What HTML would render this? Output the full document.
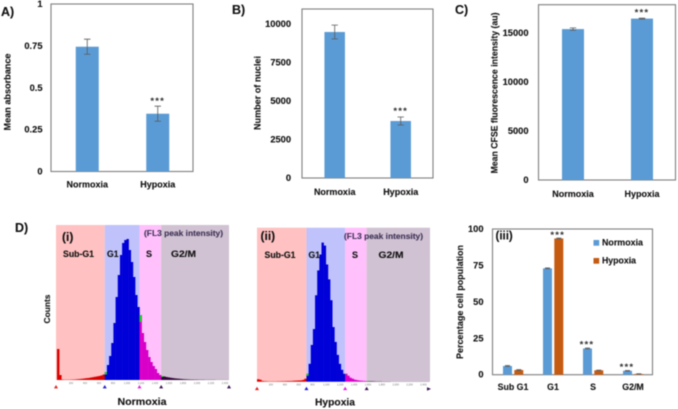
<!DOCTYPE html>
<html lang="en">
<head>
<meta charset="utf-8">
<title>Cell proliferation under normoxia and hypoxia</title>
<style>
html,body{margin:0;padding:0;background:#fff;width:678px;height:409px;overflow:hidden}
svg{display:block;filter:blur(0.45px)}
text{font-family:"Liberation Sans",sans-serif;font-weight:bold;fill:#111;stroke:#111;stroke-width:0.12px;dominant-baseline:central}
</style>
</head>
<body>
<svg id="figure" width="678" height="409" viewBox="0 0 678 409" xmlns="http://www.w3.org/2000/svg">
  <text x="1" y="12" font-size="12.5">A)</text>
  <text x="232" y="10" font-size="12.5">B)</text>
  <text x="455" y="10" font-size="12.5">C)</text>
  <text x="15" y="228" font-size="12.5">D)</text>
  <text x="58" y="15" font-size="9" textLength="44" lengthAdjust="spacingAndGlyphs">MTT assay</text>
  <text x="305" y="16" font-size="9.5" textLength="54" lengthAdjust="spacingAndGlyphs">Nuclei count</text>
  <text x="544.5" y="14" font-size="9.5" textLength="74" lengthAdjust="spacingAndGlyphs">CFSE dye dilution</text>
  <text transform="translate(7.5,92) rotate(-90)" text-anchor="middle" font-size="9" textLength="77" lengthAdjust="spacingAndGlyphs">Mean absorbance</text>
  <text transform="translate(257.5,93) rotate(-90)" text-anchor="middle" font-size="9" textLength="74" lengthAdjust="spacingAndGlyphs">Number of nuclei</text>
  <text transform="translate(494.5,93) rotate(-90)" text-anchor="middle" font-size="9" textLength="161" lengthAdjust="spacingAndGlyphs">Mean CFSE fluorescence intensity (au)</text>
  <text transform="translate(460,302) rotate(-90)" text-anchor="middle" font-size="9" textLength="114" lengthAdjust="spacingAndGlyphs">Percentage cell population</text>
  <text transform="translate(47,309) rotate(-90)" text-anchor="middle" font-size="8.5" textLength="29" lengthAdjust="spacingAndGlyphs">Counts</text>
  <text x="142" y="402" text-anchor="middle" font-size="10.5" textLength="49" lengthAdjust="spacingAndGlyphs">Normoxia</text>
  <text x="335" y="402.5" text-anchor="middle" font-size="10.5" textLength="40" lengthAdjust="spacingAndGlyphs">Hypoxia</text>
  <g id="marks"></g>
  <text x="62" y="237" font-size="12">(i)</text>
  <text x="63" y="254" font-size="9" textLength="31" lengthAdjust="spacingAndGlyphs">Sub-G1</text>
  <text x="107" y="254" font-size="9" textLength="11.5" lengthAdjust="spacingAndGlyphs">G1</text>
  <text x="146" y="254" font-size="9">S</text>
  <text x="171" y="254" font-size="9" textLength="25" lengthAdjust="spacingAndGlyphs">G2/M</text>
  <text x="144" y="233" font-size="8.5" style="fill:#3f3358;stroke:#3f3358" textLength="79" lengthAdjust="spacingAndGlyphs">(FL3 peak intensity)</text>
  <text x="260.5" y="236" font-size="12">(ii)</text>
  <text x="264.5" y="255" font-size="9" textLength="31" lengthAdjust="spacingAndGlyphs">Sub-G1</text>
  <text x="308.5" y="255" font-size="9" textLength="11.5" lengthAdjust="spacingAndGlyphs">G1</text>
  <text x="352" y="255" font-size="9">S</text>
  <text x="378.5" y="255" font-size="9" textLength="25" lengthAdjust="spacingAndGlyphs">G2/M</text>
  <text x="344" y="236" font-size="8.5" style="fill:#3f3358;stroke:#3f3358" textLength="79" lengthAdjust="spacingAndGlyphs">(FL3 peak intensity)</text>
  <text x="495.5" y="236.5" font-size="11.5">(iii)</text>
  <rect x="593.5" y="240" width="5.7" height="5.7" fill="#5b9bd5"/>
  <rect x="593.5" y="258" width="5.7" height="5.7" fill="#c55a11"/>
  <text x="602" y="242.7" font-size="9" textLength="41" lengthAdjust="spacingAndGlyphs">Normoxia</text>
  <text x="602" y="260.7" font-size="9" textLength="34" lengthAdjust="spacingAndGlyphs">Hypoxia</text>
</svg>
<script>
const treatmentCategories = ['Normoxia', 'Hypoxia'];
const mttValues = [0.745, 0.345];
const mttErrors = [0.045, 0.045];
const mttTicks = [0, 0.25, 0.5, 0.75, 1];
const nucleiValues = [9480, 3700];
const nucleiErrors = [445, 260];
const nucleiTicks = [0, 2500, 5000, 7500, 10000];
const cfseValues = [15400, 16470];
const cfseErrors = [120, 50];
const cfseTicks = [0, 5000, 10000, 15000];
const cycleCategories = ['Sub G1', 'G1', 'S', 'G2/M'];
const cycleNormoxia = [6, 73, 18, 2.7];
const cycleHypoxia = [3.2, 93.5, 3, 0.5];
const cycleNormoxiaErrors = [0.3, 0.3, 0.3, 0.2];
const cycleHypoxiaErrors = [0.3, 0.3, 0.1, 0.1];
const cycleTicks = [0, 25, 50, 75, 100];
const histNormoxiaCounts = [31,5,0.5,0.3,0.3,0.3,0.4,0.5,0.6,0.8,1,1.2,1.5,1.8,2,2.4,2.8,3.2,3.6,4,4.6,5.5,8,15,24,37,57,83,105,125,137,140,141,130,118,103,85,73,65,47,38,30,23,18,14,11,7,5,4,3.5,3,2.6,2.2,1.9,1.6,1.4,1.2,1,0.8,0.7,0.6,0.5,0.5,0.4,0.4,0.3,0.3,0.3,0.2,0.2,0.2,0.2,0.2,0.1,0.1,0.1,0.1,0.1,0.1];
const histHypoxiaCounts = [2.5,2,0.8,0.5,0.4,0.3,0.3,0.3,0.3,0.4,0.4,0.5,0.5,0.6,0.7,0.7,0.8,1,1.1,1.2,1.3,1.8,3,8,18,37,53,87,112,128,140,137,118,103,82,55,40,27,18,12,8,8,6,4,3,2,1.6,1.2,1,0.8,0.7,0.6,0.5,0.5,0.4,0.3,0.3,0.3,0.2,0.2,0.2,0.2,0.1,0.1,0.1,0.1,0.1,0.1,0.1,0.1,0.1,0.1,0.1,0.1,0.1,0.1,0.1,0.1,0.1,0.1];
const gateNamesHist = ['sub-g1', 'g1', 's', 'g2m'];
const gateEdgesNormoxia = [22, 38, 48];
const gateEdgesHypoxia = [23, 41, 51];
const gateOverlapNormoxia = [2.5, 7, 1];
const gateOverlapHypoxia = [2, 0.5, 0.5];
const histTickLabels = ['200','400','600','800','1,000','1,200','1,400','1,600','1,800','2,000','2,200','2,400'];
const histTickValues = [200,400,600,800,1000,1200,1400,1600,1800,2000,2200,2400];
const countsMax = 155;
const fl3PerBin = 31;

const SVGNS = 'http://www.w3.org/2000/svg';
const root = document.getElementById('marks');
function mk(tag, attrs) {
  const el = document.createElementNS(SVGNS, tag);
  for (const k in attrs) el.setAttribute(k, attrs[k]);
  root.appendChild(el);
  return el;
}
function linear(d0, d1, r0, r1) {
  return v => r0 + (v - d0) / (d1 - d0) * (r1 - r0);
}
function stars(prefix, cx, y) {
  const s = mk('text', {x: cx, y: y, 'text-anchor': 'middle', 'font-size': 9.5, 'letter-spacing': 1.2, style: 'fill:#333;stroke:none'});
  s.textContent = '***';
  
  
}
function tickLabels(prefix, ticks, y, right, fmt) {
  ticks.forEach(t => {
    const l = mk('text', {x: right, y: y(t), 'text-anchor': 'end', 'font-size': 9.3});
    l.textContent = fmt ? fmt(t) : String(t);
    
    
  });
}
function plotBox(prefix, x0, x1, yTop, yBottom) {
  const b = mk('rect', {x: x0, y: yTop, width: x1 - x0, height: yBottom - yTop, fill: '#fff', stroke: '#7f7f7f', 'stroke-width': 1.1});
  
  
}
function errorBar(prefix, cx, yHi, yLo, cap) {
  const e = mk('path', {d: 'M' + (cx - cap) + ' ' + yHi + 'H' + (cx + cap) + 'M' + cx + ' ' + yHi + 'V' + yLo + 'M' + (cx - cap) + ' ' + yLo + 'H' + (cx + cap), stroke: '#5a5a5a', 'stroke-width': 0.8, fill: 'none'});
  
  
}
function drawTreatmentPanel(p, values, errors, ticks) {
  plotBox(p.prefix, p.x0, p.x1, p.yTop, p.yBottom);
  const y = linear(0, p.yMax, p.yBottom, p.yTop);
  const band = p.band;
  values.forEach((v, i) => {
    const cx = p.left + (i + 0.5) * band;
    const r = mk('rect', {x: cx - p.barW / 2, y: y(v), width: p.barW, height: y(0) - y(v), fill: '#5b9bd5'});
    
    
    errorBar(p.prefix + '-' + treatmentCategories[i].toLowerCase(), cx, y(v + errors[i]), y(v - errors[i]), 3.2);
    const l = mk('text', {x: cx, y: p.labelY, 'text-anchor': 'middle', 'font-size': 9});
    l.textContent = treatmentCategories[i];
    
    
  });
  const cxH = p.left + 1.5 * band;
  stars(p.prefix, cxH, y(values[1] + errors[1]) - p.starGap);
  tickLabels(p.prefix, ticks, y, p.tickRight);
}
drawTreatmentPanel({prefix: 'mtt', x0: 51, x1: 193, yTop: 4, yBottom: 171.5, yMax: 1, left: 52, band: 70.5, barW: 23, labelY: 184.5, tickRight: 42.5, starGap: 4.5}, mttValues, mttErrors, mttTicks);
drawTreatmentPanel({prefix: 'nuclei', x0: 302, x1: 433, yTop: 9, yBottom: 178, yMax: 10974, left: 301.7, band: 66, barW: 20.5, labelY: 192, tickRight: 291, starGap: 5.5}, nucleiValues, nucleiErrors, nucleiTicks);
drawTreatmentPanel({prefix: 'cfse', x0: 538.5, x1: 675.5, yTop: 4.7, yBottom: 180, yMax: 17888, left: 538.5, band: 69, barW: 22, labelY: 194, tickRight: 528.5, starGap: 5}, cfseValues, cfseErrors, cfseTicks);

function drawHistogram(p, counts, gates, overlap) {
  const x = linear(0, 1, p.binStart, p.binStart + p.binW);
  const y = linear(0, countsMax, p.yBottom, p.yTop);
  const edges = [p.x0, x(gates[0]), x(gates[1]), x(gates[2]), p.x1];
  const bands = ['#ffc1c1', '#c0c2fb', '#ffc0fb', '#d0c2d2'];
  const fills = ['#d80000', '#0000d8', '#d800c8', '#33063c'];
  const triangles = ['#e02020', '#2020c8', '#e020e0', '#3a1050', '#3a1050'];
  gateNamesHist.forEach((g, i) => {
    const b = mk('rect', {x: edges[i], y: p.yTop, width: edges[i + 1] - edges[i], height: p.yBottom - p.yTop, fill: bands[i]});
    
    
  });
  counts.forEach((c, i) => {
    let gi = 0;
    while (gi < 3 && i >= gates[gi]) gi++;
    const r = mk('rect', {x: x(i), y: y(c), width: p.binW + 0.25, height: y(0) - y(c), fill: fills[gi]});
    
    
  });
  gates.forEach((g, i) => {
    const c = counts[g];
    const cap = mk('rect', {x: x(g), y: y(c), width: p.binW, height: y(c - overlap[i]) - y(c), fill: '#20d020'});
    
    
  });
  histTickValues.forEach((v, i) => {
    const t = mk('text', {x: x(v / fl3PerBin), y: p.yBottom + 3.5, 'text-anchor': 'middle', 'font-size': 2.6, style: 'fill:#777;stroke:none;font-weight:normal'});
    t.textContent = histTickLabels[i];
    
    
  });
  edges.forEach((e, i) => {
    const yT = p.yBottom + 5;
    const isArrow = p.endArrow && i === 4;
    const d = isArrow
      ? 'M' + (e - 3) + ' ' + (yT + 0.5) + 'L' + (e + 1) + ' ' + (yT + 2.2) + 'L' + (e - 3) + ' ' + (yT + 4) + 'Z'
      : 'M' + (e - 2) + ' ' + (yT + 3.4) + 'L' + e + ' ' + yT + 'L' + (e + 2) + ' ' + (yT + 3.4) + 'Z';
    const m = mk('path', {d: d, fill: triangles[i]});
    
    
  });
}
drawHistogram({prefix: 'normoxia-histogram', x0: 56, x1: 229, yTop: 225, yBottom: 380, binStart: 57, binW: 2.17, endArrow: false}, histNormoxiaCounts, gateEdgesNormoxia, gateOverlapNormoxia);
drawHistogram({prefix: 'hypoxia-histogram', x0: 257, x1: 430, yTop: 227.7, yBottom: 381.7, binStart: 257, binW: 2.15, endArrow: true}, histHypoxiaCounts, gateEdgesHypoxia, gateOverlapHypoxia);

(function drawCycle() {
  const prefix = 'cycle';
  plotBox(prefix, 492.5, 652.5, 229, 374.7);
  const y = linear(0, 100, 374.7, 229);
  const band = 40, left = 493, barW = 9;
  const starred = {n: [2, 3], h: [1]};
  cycleCategories.forEach((cat, i) => {
    const cx = left + (i + 0.5) * band;
    const key = cat.toLowerCase().replace(/[^a-z0-9]/g, '');
    const a = mk('rect', {x: cx - 10, y: y(cycleNormoxia[i]), width: barW, height: y(0) - y(cycleNormoxia[i]), fill: '#5b9bd5'});
    
    
    const b = mk('rect', {x: cx + 1.3, y: y(cycleHypoxia[i]), width: barW, height: y(0) - y(cycleHypoxia[i]), fill: '#c55a11'});
    
    
    errorBar('cycle-normoxia-' + key, cx - 5.5, y(cycleNormoxia[i] + cycleNormoxiaErrors[i]), y(cycleNormoxia[i] - cycleNormoxiaErrors[i]), 2.5);
    errorBar('cycle-hypoxia-' + key, cx + 5.8, y(cycleHypoxia[i] + cycleHypoxiaErrors[i]), y(cycleHypoxia[i] - cycleHypoxiaErrors[i]), 2.5);
    const l = mk('text', {x: cx, y: 387, 'text-anchor': 'middle', 'font-size': 8.8});
    l.textContent = cat;
    
    
    if (starred.n.includes(i)) stars('cycle-normoxia-' + key, cx - 6, y(cycleNormoxia[i]) - 3.5);
    if (starred.h.includes(i)) stars('cycle-hypoxia-' + key, cx + 4.7, y(cycleHypoxia[i]) - 3);
  });
  tickLabels(prefix, cycleTicks, y, 483.5);
})();
</script>
</body>
</html>
